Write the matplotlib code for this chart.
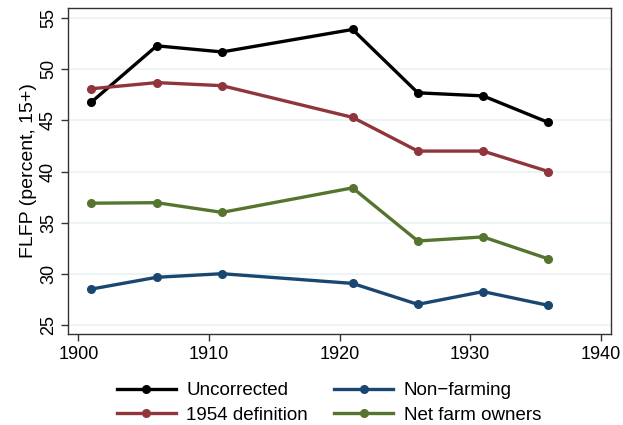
import numpy as np
import matplotlib
matplotlib.use("Agg")
import matplotlib.pyplot as plt

plt.rcParams['font.family'] = ['Liberation Sans', 'DejaVu Sans']

# Census years
years = [1901, 1906, 1911, 1921, 1926, 1931, 1936]

# FLFP series (percent, 15+)
uncorrected = [46.8, 52.3, 51.7, 53.9, 47.7, 47.4, 44.8]
def_1954 = [48.1, 48.7, 48.4, 45.3, 42.0, 42.0, 40.0]
non_farming = [28.5, 29.65, 30.0, 29.05, 27.0, 28.25, 26.9]
net_farm = [36.9, 36.95, 36.0, 38.4, 33.2, 33.6, 31.45]

series = [
    ("Uncorrected", uncorrected, "#000000"),
    ("1954 definition", def_1954, "#90353B"),
    ("Non\u2212farming", non_farming, "#1A476F"),
    ("Net farm owners", net_farm, "#55752F"),
]

fig = plt.figure(figsize=(6.23, 4.25), dpi=100)
ax = fig.add_axes([68/623, 1 - 334/425, (611-68)/623, (334-8)/425])

handles = {}
for name, vals, col in series:
    h, = ax.plot(years, vals, color=col, lw=2.4, marker='o', ms=5.5, label=name)
    handles[name] = h

ax.set_xlim(1899.2, 1940.8)
ax.set_ylim(24.1, 56.0)
ax.set_xticks([1900, 1910, 1920, 1930, 1940])
ax.set_yticks([25, 30, 35, 40, 45, 50, 55])
ax.grid(axis='y', color='#EAF2F3', lw=1.2)
ax.set_axisbelow(True)
for lab in ax.get_yticklabels():
    lab.set_rotation(90)
    lab.set_va('center')
ax.tick_params(labelsize=13, length=5, width=1, color='#333333', direction='out')
ax.tick_params(axis='y', pad=3)
for s in ax.spines.values():
    s.set_color('#333333')
    s.set_linewidth(1)
ax.set_ylabel("FLFP (percent, 15+)", fontsize=14, labelpad=2)

order = ["Uncorrected", "1954 definition", "Non\u2212farming", "Net farm owners"]
fig.legend([handles[k] for k in order], order, loc='center',
           bbox_to_anchor=(329/623, 1 - 403/425), ncol=2, frameon=False, fontsize=13.5,
           handlelength=3.15, handletextpad=0.55, columnspacing=1.4, labelspacing=0.4,
           borderpad=0.2)

fig.savefig("out.png", dpi=100)
